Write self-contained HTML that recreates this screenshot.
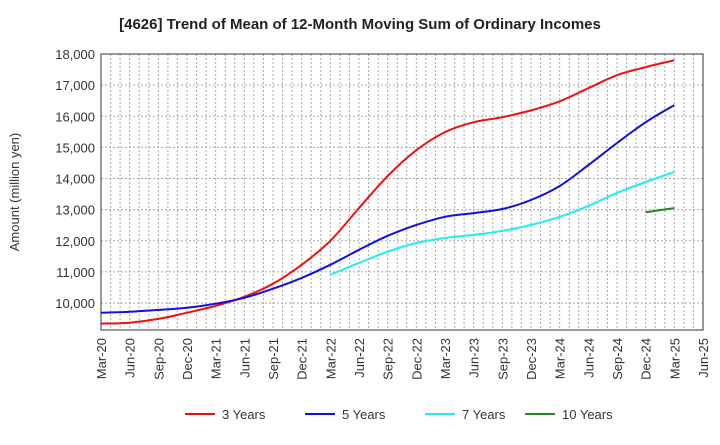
<!DOCTYPE html>
<html><head><meta charset="utf-8"><style>
body{margin:0;background:#fff;font-family:"Liberation Sans",Arial,sans-serif}
</style></head><body>
<svg id="chart" width="720" height="440" xmlns="http://www.w3.org/2000/svg" font-family="Liberation Sans, Arial, sans-serif">
<text x="360" y="29" text-anchor="middle" font-size="15" font-weight="bold" fill="#222">[4626]  Trend of Mean of 12-Month Moving Sum of Ordinary Incomes</text>
<text transform="translate(19,192) rotate(-90)" text-anchor="middle" font-size="13" fill="#333">Amount (million yen)</text>
<g id="grid"></g><g id="axes"></g><g id="series"></g><g id="legend"></g>
</svg>
<script>
const xLabels=["Mar-20","Jun-20","Sep-20","Dec-20","Mar-21","Jun-21","Sep-21","Dec-21","Mar-22","Jun-22","Sep-22","Dec-22","Mar-23","Jun-23","Sep-23","Dec-23","Mar-24","Jun-24","Sep-24","Dec-24","Mar-25","Jun-25"];
const yTicks=[10000,11000,12000,13000,14000,15000,16000,17000,18000];
const s3=[9340,9370,9490,9690,9910,10200,10620,11230,12000,13050,14080,14910,15490,15810,15970,16190,16480,16900,17320,17580,17800];
const s5=[9690,9720,9780,9850,9980,10170,10460,10810,11230,11710,12160,12510,12770,12890,13020,13310,13760,14430,15140,15810,16360];
const s7=[null,null,null,null,null,null,null,null,10910,11290,11650,11930,12090,12190,12320,12510,12770,13120,13540,13890,14210];
const s10=[null,null,null,null,null,null,null,null,null,null,null,null,null,null,null,null,null,null,null,12920,13050];
const seriesNames=["3 Years","5 Years","7 Years","10 Years"];
const colors=["#ee1111","#1111dd","#22eeee","#228822"];
const L=101,R=703,T=54,B=330,yMin=9135,yMax=18000;
const X=i=>L+i*(R-L)/21;
const Y=v=>B-(v-yMin)/(yMax-yMin)*(B-T);
const NS="http://www.w3.org/2000/svg";
function mk(tag,attrs,parent){const e=document.createElementNS(NS,tag);for(const k in attrs)e.setAttribute(k,attrs[k]);parent.appendChild(e);return e;}
const grid=document.getElementById('grid'),axes=document.getElementById('axes'),ser=document.getElementById('series'),leg=document.getElementById('legend');
for(let m=1;m<63;m++){const x=L+m*(R-L)/63;const l=mk('line',{x1:x,x2:x,y1:T,y2:B,stroke:'#aaa','stroke-dasharray':'2,2','stroke-width':1},grid);

}
yTicks.forEach(v=>{const y=Y(v);const l=mk('line',{x1:L,x2:R,y1:y,y2:y,stroke:'#aaa','stroke-dasharray':'2,2'},grid);


const t=mk('text',{x:L-6,y:y+5,'text-anchor':'end','font-size':13,fill:'#333'},axes);t.textContent=v.toLocaleString('en-US');

});
const fr=mk('rect',{x:L,y:T,width:R-L,height:B-T,fill:'none',stroke:'#333'},axes);


xLabels.forEach((s,i)=>{const x=X(i);const t=mk('text',{transform:`translate(${x+5},${B+8}) rotate(-90)`,'text-anchor':'end','font-size':13,fill:'#333'},axes);t.textContent=s;

});
function smooth(pts){if(pts.length<2)return '';let d='M'+pts[0][0].toFixed(1)+','+pts[0][1].toFixed(1);
for(let i=0;i<pts.length-1;i++){const p0=pts[i-1]||pts[i],p1=pts[i],p2=pts[i+1],p3=pts[i+2]||p2;
const c1=[p1[0]+(p2[0]-p0[0])/6,p1[1]+(p2[1]-p0[1])/6],c2=[p2[0]-(p3[0]-p1[0])/6,p2[1]-(p3[1]-p1[1])/6];
d+='C'+c1.map(n=>n.toFixed(1)).join(',')+' '+c2.map(n=>n.toFixed(1)).join(',')+' '+p2[0].toFixed(1)+','+p2[1].toFixed(1);}return d;}
[s3,s5,s7,s10].forEach((s,k)=>{const pts=[];s.forEach((v,i)=>{if(v!=null)pts.push([X(i),Y(v)]);});
const p=mk('path',{d:smooth(pts),fill:'none',stroke:colors[k],'stroke-width':2},ser);


const lx=[185,305,425,525][k];
const ll=mk('line',{x1:lx,x2:lx+30,y1:414,y2:414,stroke:colors[k],'stroke-width':2},leg);


const lt=mk('text',{x:lx+37,y:419,'font-size':13,fill:'#333'},leg);lt.textContent=seriesNames[k];

});
</script>
</body></html>
